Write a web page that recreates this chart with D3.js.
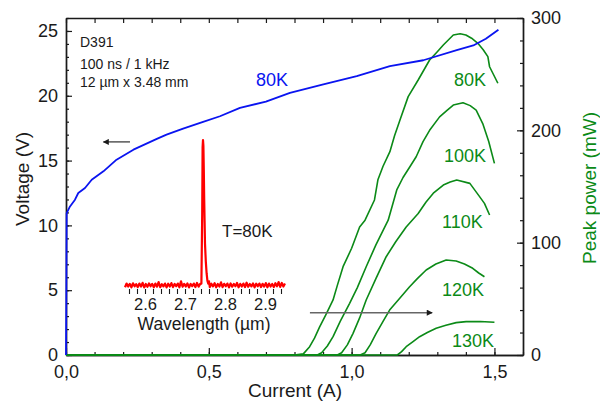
<!DOCTYPE html>
<html><head><meta charset="utf-8">
<script src="https://cdn.jsdelivr.net/npm/d3@7"></script>
<style>
body{margin:0;background:#fff;}
text{font-family:"Liberation Sans",Arial,sans-serif;}
</style></head>
<body><svg id="c" width="600" height="402"></svg>
<script>
// ---------- data ----------
const currentTicks = [0, 0.5, 1.0, 1.5];
const currentTickLabels = ["0,0", "0,5", "1,0", "1,5"];
const voltageTicks = [0, 5, 10, 15, 20, 25];
const powerTicks = [0, 100, 200, 300];
const specTicks = [2.6, 2.7, 2.8, 2.9];

const voltCurrent = [0, 0.001, 0.0023, 0.014, 0.0315, 0.043, 0.0665, 0.09, 0.131, 0.177, 0.236, 0.318, 0.352, 0.41, 0.48, 0.539, 0.609, 0.70, 0.784, 0.901, 1.018, 1.134, 1.251, 1.368, 1.426, 1.47, 1.514];
const voltage     = [0, 4, 10.95, 11.46, 11.98, 12.5, 12.88, 13.52, 14.17, 15.07, 15.84, 16.67, 17.0, 17.47, 17.98, 18.42, 19.07, 19.55, 20.22, 20.87, 21.51, 22.28, 22.74, 23.52, 23.88, 24.4, 25.1];

const temps = ["80K", "100K", "110K", "120K", "130K"];
const I80  = [0, 0.80, 0.831, 0.853, 0.87, 0.888, 0.91, 0.935, 0.95, 0.97, 1.0, 1.028, 1.047, 1.08, 1.092, 1.11, 1.134, 1.15, 1.169, 1.198, 1.233, 1.273, 1.3, 1.321, 1.356, 1.38, 1.40, 1.42, 1.442, 1.46, 1.477, 1.483, 1.512];
const P80  = [0, 0, 1, 7.4, 15, 25, 36, 49, 62, 78.6, 95, 114, 120, 138, 156, 168, 181, 195, 209, 230, 244.8, 262.6, 270, 276, 284.9, 286, 284.9, 282, 277.5, 272, 265.6, 256.6, 241.9];
const I100 = [0, 0.88, 0.895, 0.915, 0.935, 0.96, 0.993, 1.02, 1.051, 1.085, 1.128, 1.158, 1.18, 1.204, 1.226, 1.25, 1.273, 1.308, 1.335, 1.356, 1.39, 1.415, 1.436, 1.459, 1.48, 1.5];
const P100 = [0, 0, 2, 8, 16.3, 30, 46, 60, 78.6, 98, 120, 146.9, 158, 167.6, 176.5, 190, 200, 212, 218, 222.5, 224.5, 222, 218, 206, 190, 170.6];
const I110 = [0, 0.95, 0.965, 0.985, 1.005, 1.028, 1.051, 1.085, 1.121, 1.155, 1.191, 1.233, 1.26, 1.286, 1.321, 1.345, 1.368, 1.414, 1.448, 1.465, 1.483];
const P110 = [0, 0, 2, 9, 19.3, 33, 49, 68, 87.5, 101, 114, 126, 136, 144, 151.3, 154, 155.8, 152.8, 141, 135, 124.6];
const I120 = [0, 1.03, 1.047, 1.065, 1.086, 1.11, 1.133, 1.17, 1.203, 1.23, 1.261, 1.295, 1.331, 1.366, 1.395, 1.424, 1.445, 1.465];
const P120 = [0, 0, 2, 9, 19.3, 30, 40, 51, 60.8, 68, 75.7, 81, 84.6, 83.7, 81, 77.2, 73, 69.7];
const I130 = [0, 1.16, 1.175, 1.191, 1.215, 1.238, 1.265, 1.296, 1.33, 1.366, 1.401, 1.45, 1.5];
const P130 = [0, 0, 3, 7.4, 12, 16.3, 20, 23.8, 26.5, 28.8, 29.7, 29.8, 29.1];

const specWavelength = [2.550,2.554,2.558,2.562,2.566,2.570,2.574,2.578,2.582,2.586,2.590,2.594,2.598,2.602,2.606,2.610,2.614,2.618,2.622,2.626,2.630,2.634,2.638,2.642,2.646,2.650,2.654,2.658,2.662,2.666,2.670,2.674,2.678,2.682,2.686,2.690,2.694,2.698,2.702,2.706,2.710,2.714,2.718,2.722,2.726,2.730,2.734,2.738,
 2.741,2.743,2.744,2.745,2.746,2.747,2.748,2.749,2.750,2.752,2.754,2.756,2.758,2.760,
 2.762,2.766,2.770,2.774,2.778,2.782,2.786,2.790,2.794,2.798,2.802,2.806,2.810,2.814,2.818,2.822,2.826,2.830,2.834,2.838,2.842,2.846,2.850,2.854,2.858,2.862,2.866,2.870,2.874,2.878,2.882,2.886,2.890,2.894,2.898,2.902,2.906,2.910,2.914,2.918,2.922,2.926,2.930,2.934,2.938,2.942,2.946,2.950];
const specIntensity = [0.005,0.03,0.01,0.028,0.004,0.032,0.012,0.026,0.006,0.03,0.01,0.035,0.004,0.027,0.008,0.031,0.012,0.028,0.005,0.03,0.009,0.04,0.006,0.026,0.011,0.03,0.004,0.029,0.01,0.033,0.006,0.027,0.012,0.03,0.005,0.045,0.008,0.028,0.01,0.031,0.004,0.027,0.012,0.03,0.006,0.034,0.009,0.028,
 0.03,0.5,0.95,1.0,0.96,0.8,0.6,0.45,0.3,0.18,0.1,0.05,0.03,0.045,
 0.006,0.029,0.011,0.033,0.005,0.027,0.01,0.038,0.006,0.028,0.012,0.03,0.004,0.031,0.009,0.027,0.012,0.034,0.005,0.028,0.01,0.03,0.006,0.036,0.008,0.027,0.011,0.031,0.004,0.029,0.012,0.03,0.006,0.028,0.009,0.033,0.005,0.03,0.01,0.027,0.006,0.032,0.012,0.04,0.007,0.034,0.01,0.03];

// ---------- scales ----------
const svg = d3.select("#c");
const x = d3.scaleLinear().domain([0, 1.6]).range([66, 523]);
const yV = d3.scaleLinear().domain([0, 26]).range([355, 18]);
const yP = d3.scaleLinear().domain([0, 300]).range([355, 18]);
const xs = d3.scaleLinear().domain([2.6, 2.9]).range([145, 265]);
const ys = d3.scaleLinear().domain([0, 1]).range([288, 140]);

const ink = "#1a1a1a";
const blue = "#0a14f0";
const green = "#0b8a17";
const fontTick = "18px";

function styleAxis(g){
  g.selectAll("path.domain").attr("stroke", ink).attr("stroke-width", 1.4);
  g.selectAll(".tick line").attr("stroke", ink).attr("stroke-width", 1.2);
  g.selectAll(".tick text").attr("fill", ink).style("font-size", fontTick)
    .style("font-family", '"Liberation Sans",Arial,sans-serif');
}

// bottom axis
svg.append("g").attr("transform", "translate(0,355)")
  .call(d3.axisBottom(x).tickValues(d3.range(0, 1.61, 0.1)).tickSizeInner(-3).tickSizeOuter(0).tickFormat(""))
  .call(styleAxis);
svg.append("g").attr("transform", "translate(0,355)")
  .call(d3.axisBottom(x).tickValues(currentTicks).tickSizeInner(-7).tickSizeOuter(0).tickPadding(10)
        .tickFormat((d, i) => currentTickLabels[i]))
  .call(styleAxis);
// top axis
svg.append("g").attr("transform", "translate(0,18)")
  .call(d3.axisTop(x).tickValues(d3.range(0, 1.61, 0.1)).tickSizeInner(-5).tickSizeOuter(0).tickFormat(""))
  .call(styleAxis);
// left axis
svg.append("g").attr("transform", "translate(66,0)")
  .call(d3.axisLeft(yV).tickValues(d3.range(0, 26.1, 1)).tickSizeInner(-3).tickSizeOuter(0).tickFormat(""))
  .call(styleAxis);
svg.append("g").attr("transform", "translate(66,0)")
  .call(d3.axisLeft(yV).tickValues(voltageTicks).tickSizeInner(-6).tickSizeOuter(0).tickPadding(8))
  .call(styleAxis);
// right axis
svg.append("g").attr("transform", "translate(523,0)")
  .call(d3.axisRight(yP).tickValues(d3.range(0, 301, 20)).tickSizeInner(-3).tickSizeOuter(0).tickFormat(""))
  .call(styleAxis);
svg.append("g").attr("transform", "translate(523,0)")
  .call(d3.axisRight(yP).tickValues(powerTicks).tickSizeInner(-6).tickSizeOuter(0).tickPadding(8))
  .call(styleAxis);

// axis titles
svg.append("text").attr("x", 295).attr("y", 397).attr("text-anchor", "middle")
  .style("font-size", "19px").attr("fill", ink).text("Current (A)");
svg.append("text").attr("transform", "translate(29,179) rotate(-90)").attr("text-anchor", "middle")
  .style("font-size", "19px").attr("fill", ink).text("Voltage (V)");
svg.append("text").attr("transform", "translate(596,188) rotate(-90)").attr("text-anchor", "middle")
  .style("font-size", "19px").attr("fill", green).text("Peak power (mW)");

// power curves
const powerSeries = [[I80, P80], [I100, P100], [I110, P110], [I120, P120], [I130, P130]];
const lineP = d3.line().x(d => x(d[0])).y(d => yP(d[1]));
powerSeries.forEach(([I, P]) => {
  svg.append("path").datum(I.map((v, i) => [v, P[i]]))
    .attr("d", lineP).attr("fill", "none").attr("stroke", green).attr("stroke-width", 1.6)
    .attr("stroke-linejoin", "round");
});

// voltage curve
const lineV = d3.line().x(d => x(d[0])).y(d => yV(d[1]));
svg.append("path").datum(voltCurrent.map((v, i) => [v, voltage[i]]))
  .attr("d", lineV).attr("fill", "none").attr("stroke", blue).attr("stroke-width", 1.8)
  .attr("stroke-linejoin", "round");

// inset spectrum
svg.append("g").attr("transform", "translate(0,289)")
  .call(d3.axisBottom(xs).tickValues(d3.range(2.56, 2.941, 0.02)).tickSizeInner(5).tickSizeOuter(0).tickFormat(""))
  .call(g => g.select("path.domain").remove())
  .call(g => g.selectAll(".tick line").attr("stroke", ink).attr("stroke-width", 1.1));
svg.append("g").attr("transform", "translate(0,289)")
  .call(d3.axisBottom(xs).tickValues(specTicks).tickSize(0).tickPadding(9).tickFormat(d3.format(".1f")))
  .call(g => g.select("path.domain").remove())
  .call(g => g.selectAll(".tick text").attr("fill", ink).style("font-size", "16.5px")
    .style("font-family", '"Liberation Sans",Arial,sans-serif'));
const lineS = d3.line().x(d => xs(d[0])).y(d => ys(d[1]));
svg.append("path").datum(specWavelength.map((w, i) => [w, specIntensity[i]]))
  .attr("d", lineS).attr("fill", "none").attr("stroke", "#ff0000").attr("stroke-width", 2.2)
  .attr("stroke-linejoin", "round");
svg.append("text").attr("x", 204).attr("y", 330).attr("text-anchor", "middle")
  .style("font-size", "17.5px").attr("fill", ink).text("Wavelength (µm)");
svg.append("text").attr("x", 222).attr("y", 237).style("font-size", "17px").attr("fill", ink).text("T=80K");

// info text
const info = [["D391", 47], ["100 ns / 1 kHz", 69], ["12 µm x 3.48 mm", 87]];
info.forEach(([t, yy]) => svg.append("text").attr("x", 80).attr("y", yy)
  .style("font-size", "14px").attr("fill", ink).text(t));

// curve labels
svg.append("text").attr("x", 256).attr("y", 86).style("font-size", "18px").attr("fill", blue).text("80K");
const gLabels = [["80K", 454, 86], ["100K", 444, 162], ["110K", 442, 228], ["120K", 442, 296], ["130K", 452, 347]];
gLabels.forEach(([t, lx, ly]) => svg.append("text").attr("x", lx).attr("y", ly)
  .style("font-size", "18px").attr("fill", green).text(t));

// arrows (in data coordinates)
const defs = svg.append("defs");
defs.append("marker").attr("id", "ah").attr("viewBox", "0 0 10 10").attr("refX", 9).attr("refY", 5)
  .attr("markerWidth", 9).attr("markerHeight", 6).attr("markerUnits", "userSpaceOnUse").attr("orient", "auto")
  .append("path").attr("d", "M0,0L10,5L0,10Z").attr("fill", ink);
svg.append("line").attr("x1", x(0.224)).attr("x2", x(0.131)).attr("y1", yV(16.44)).attr("y2", yV(16.44))
  .attr("stroke", ink).attr("stroke-width", 1.1).attr("marker-end", "url(#ah)");
svg.append("line").attr("x1", x(0.854)).attr("x2", x(1.282)).attr("y1", yP(37.7)).attr("y2", yP(37.7))
  .attr("stroke", "#666").attr("stroke-width", 1.5).attr("marker-end", "url(#ah)");
</script></body></html>
